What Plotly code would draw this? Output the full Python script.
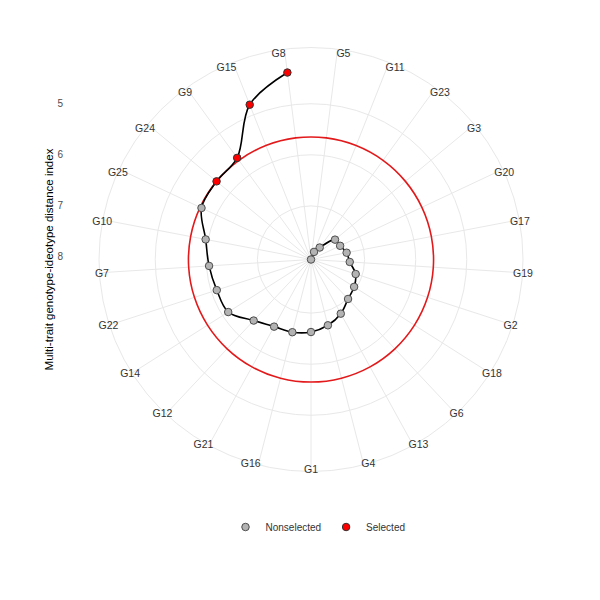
import plotly.graph_objects as go

# ---------------- data ----------------
angular_order = ["G8", "G5", "G11", "G23", "G3", "G20", "G17", "G19", "G2", "G18",
                 "G6", "G13", "G4", "G1", "G16", "G21", "G12", "G14", "G22", "G7",
                 "G10", "G25", "G24", "G9", "G15"]
ranked_genotypes = ["G8", "G15", "G9", "G24", "G25", "G10", "G7", "G22", "G14", "G12",
                    "G21", "G16", "G1", "G4", "G13", "G6", "G18", "G2", "G19", "G17",
                    "G20", "G3", "G23", "G11", "G5"]
mgidi_values = [4.36, 4.79, 5.59, 5.65, 5.68, 5.95, 6.05, 6.11, 6.13, 6.41,
                6.55, 6.58, 6.63, 6.72, 6.84, 6.99, 7.05, 7.13, 7.29, 7.34,
                7.42, 7.44, 7.76, 7.89, 8.05]
n_selected = 4
radial_ticks = [5, 6, 7, 8]
legend_names = ["Nonselected", "Selected"]

# ---------------- layout geometry ----------------
W, H = 600, 600
OFF = 8                  # page body margin of the html page
cx, cy = 311 - OFF, 259.5 - OFF   # centre of the polar panel (px, paper coords)
R = 212                  # outer circle radius (px)
label_inset = 10         # radius reduction for the label-only polar

r_max = max(mgidi_values)
r_min = min(mgidi_values)
r_outer = r_max - (r_max - r_min) * 1.125
span = r_max - r_outer
n = len(angular_order)
rotation = 90 + 180.0 / n

def dom(radius):
    return dict(x=[(cx - radius) / W, (cx + radius) / W],
                y=[1 - (cy + radius) / H, 1 - (cy - radius) / H])

R2 = R - label_inset
cut_value = mgidi_values[n_selected - 1]

FONT = "Liberation Sans, Arial, sans-serif"
GRID = "#e8e8e8"

fig = go.Figure()

# red selection circle
fig.add_trace(go.Scatterpolar(
    theta=angular_order + angular_order[:1],
    r=[cut_value] * (n + 1),
    mode="lines", line=dict(color="#e31a1c", width=1.6, shape="spline"),
    showlegend=False, hoverinfo="skip", subplot="polar"))

# spiral path
fig.add_trace(go.Scatterpolar(
    theta=ranked_genotypes, r=mgidi_values,
    mode="lines", line=dict(color="black", width=1.6, shape="spline"),
    showlegend=False, hoverinfo="skip", subplot="polar"))

# points
fig.add_trace(go.Scatterpolar(
    theta=ranked_genotypes[n_selected:], r=mgidi_values[n_selected:],
    mode="markers", name=legend_names[0],
    marker=dict(size=7.5, color="#b3b3b3", line=dict(color="#4d4d4d", width=1)),
    subplot="polar"))
fig.add_trace(go.Scatterpolar(
    theta=ranked_genotypes[:n_selected], r=mgidi_values[:n_selected],
    mode="markers", name=legend_names[1],
    marker=dict(size=7.5, color="#ff0000", line=dict(color="#333333", width=1)),
    subplot="polar"))

# invisible trace for the label-only polar
fig.add_trace(go.Scatterpolar(
    theta=angular_order, r=[r_max] * n, mode="markers",
    marker=dict(opacity=0), showlegend=False, hoverinfo="skip", subplot="polar2"))

# invisible trace for the left radial scale
fig.add_trace(go.Scatter(x=[None], y=[None], showlegend=False, hoverinfo="skip"))

fig.update_layout(
    width=W, height=H,
    margin=dict(l=0, r=0, t=0, b=0, autoexpand=False),
    paper_bgcolor="white", plot_bgcolor="rgba(0,0,0,0)",
    font=dict(family=FONT, color="#333333"),
    polar=dict(
        domain=dom(R), bgcolor="white",
        radialaxis=dict(range=[r_max, r_outer], tickvals=radial_ticks,
                        showticklabels=False, ticks="", showline=False,
                        gridcolor=GRID, gridwidth=1),
        angularaxis=dict(type="category", categoryorder="array",
                         categoryarray=angular_order, direction="clockwise",
                         rotation=rotation, showticklabels=False, ticks="",
                         showline=True, linecolor=GRID, linewidth=1,
                         gridcolor=GRID, gridwidth=1),
    ),
    polar2=dict(
        domain=dom(R2), bgcolor="rgba(0,0,0,0)",
        radialaxis=dict(visible=False, range=[r_max, r_max - span * R2 / R]),
        angularaxis=dict(type="category", categoryorder="array",
                         categoryarray=angular_order, direction="clockwise",
                         rotation=rotation, showticklabels=True, ticks="",
                         showline=False, showgrid=False,
                         tickfont=dict(size=10.5, color="#333333", family=FONT)),
    ),
    xaxis=dict(domain=[(64 - OFF) / W, 0.9], visible=False, range=[0, 1]),
    yaxis=dict(domain=dom(R)["y"], anchor="x", side="left",
               range=[r_max + span, r_outer], tickvals=radial_ticks,
               ticks="", showgrid=False, zeroline=False, showline=False,
               automargin=False,
               tickfont=dict(size=10, color="#4d4d4d", family=FONT),
               title=dict(text="Multi-trait genotype-ideotype distance index",
                          font=dict(size=11.5, color="black", family=FONT),
                          standoff=1)),
    legend=dict(orientation="h", x=(318 - OFF) / W, xanchor="center",
                y=1 - (527 - OFF) / H, yanchor="middle",
                font=dict(size=10, color="#333333", family=FONT),
                bgcolor="rgba(0,0,0,0)", itemwidth=30),
)

fig.write_html("out.html")
